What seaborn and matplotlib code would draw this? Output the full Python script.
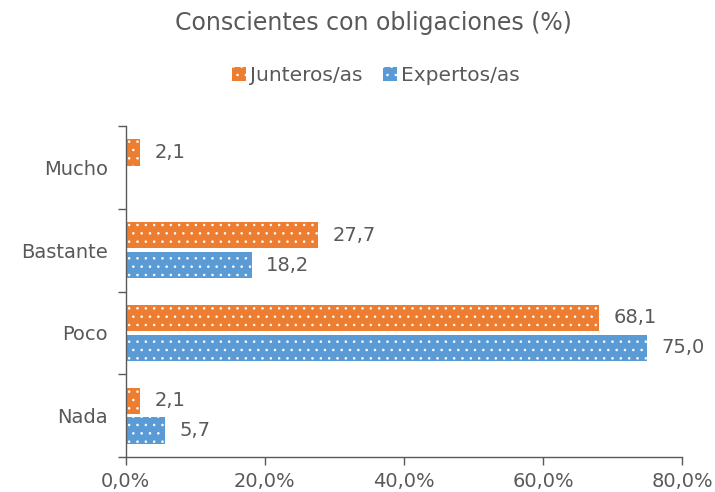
import pandas as pd
import seaborn as sns
import matplotlib.pyplot as plt
import numpy as np

categorias = ["Mucho", "Bastante", "Poco", "Nada"]
junteros = [2.1, 27.7, 68.1, 2.1]
expertos = [0.0, 18.2, 75.0, 5.7]
series = ["Junteros/as", "Expertos/as"]
x_ticks = [0, 20, 40, 60, 80]

ORANGE = "#ED7D31"
BLUE = "#5B9BD5"
GRAY = "#595959"

data = pd.DataFrame({
    "categoria": categorias * 2,
    "valor": junteros + expertos,
    "serie": [series[0]] * 4 + [series[1]] * 4,
})

sns.set_theme(style="white")
plt.rcParams["font.family"] = ["DejaVu Sans"]
plt.rcParams["hatch.linewidth"] = 0.6

fig = plt.figure(figsize=(7.15, 4.92), dpi=100)
ax = fig.add_axes([0.176, 0.071, 0.778, 0.673])

sns.barplot(data=data, y="categoria", x="valor", hue="serie", order=categorias,
            hue_order=series, palette=[ORANGE, BLUE], orient="h", width=0.72,
            gap=0.12, saturation=1, ax=ax, legend=False)

for cont in ax.containers:
    for bar in cont:
        bar.set_hatch("..")
        bar.set_edgecolor("white")
        bar.set_linewidth(0)
    labels = [f"{v:.1f}".replace(".", ",") if v > 0 else "" for v in cont.datavalues]
    ax.bar_label(cont, labels=labels, padding=10, fontsize=14, color=GRAY)

ax.set_xlim(0, 80)
ax.set_ylim(3.5, -0.5)
ax.set_xticks(x_ticks)
ax.set_xticklabels([f"{v:.1f}%".replace(".", ",") for v in x_ticks], fontsize=14, color=GRAY)
ax.set_yticks(range(4))
ax.set_yticklabels(categorias, fontsize=14, color=GRAY)
ax.set_yticks(np.arange(-0.5, 4, 1), minor=True)
ax.tick_params(axis="y", which="major", length=0, pad=13)
ax.tick_params(axis="y", which="minor", length=6, width=1, color=GRAY, left=True)
ax.tick_params(axis="x", length=6, width=1, color=GRAY, bottom=True, pad=5)
ax.set_xlabel("")
ax.set_ylabel("")

sns.despine(ax=ax)
for s in ["left", "bottom"]:
    ax.spines[s].set_color(GRAY)
    ax.spines[s].set_linewidth(1)

fig.suptitle("Conscientes con obligaciones (%)", x=0.522, y=0.978, fontsize=17, color=GRAY)

handles = [plt.Rectangle((0, 0), 1, 1, facecolor=c, edgecolor="white", hatch="..", linewidth=0)
           for c in [ORANGE, BLUE]]
fig.legend(handles, series, loc="center", bbox_to_anchor=(0.526, 0.847), ncol=2,
           frameon=False, fontsize=14.5, labelcolor=GRAY, handlelength=0.7,
           handleheight=0.7, handletextpad=0.2, columnspacing=1.0)

fig.savefig("out.png", dpi=100)
